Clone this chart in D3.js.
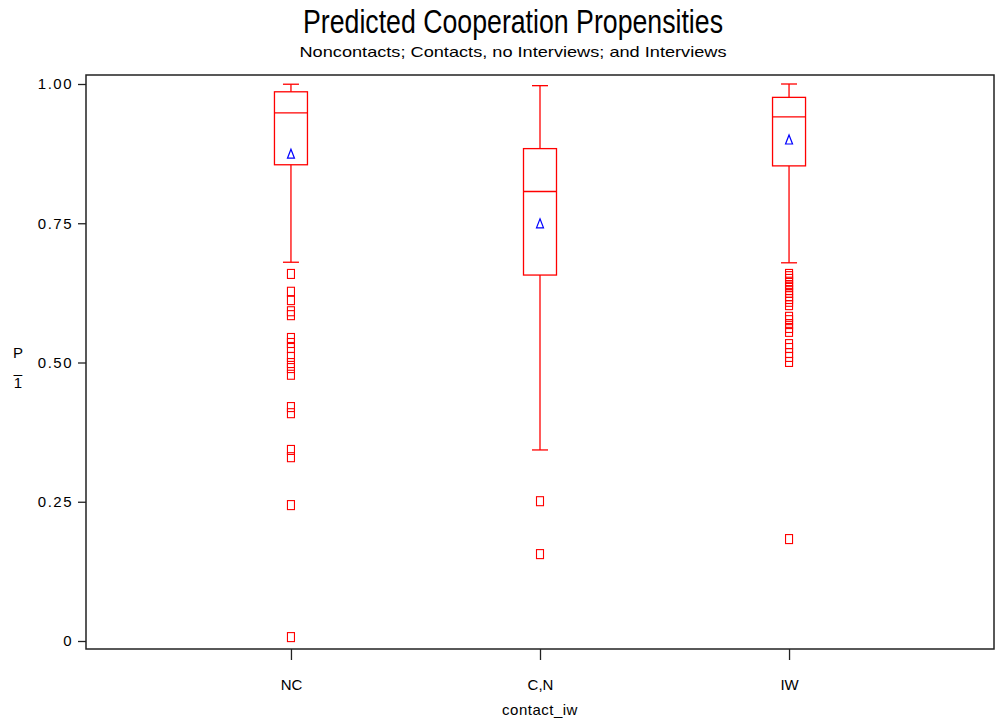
<!DOCTYPE html>
<html>
<head>
<meta charset="utf-8">
<script src="https://cdn.jsdelivr.net/npm/d3@7"></script>
<style>
  body { margin: 0; background: #fff; }
  text { font-family: "Liberation Sans", Arial, sans-serif; fill: #000; }
</style>
</head>
<body>
<div id="chartid"></div>
<script>
"use strict"

// categories and box statistics
var categories = ["NC", "C,N", "IW"];
var whiskerLow  = [0.680, 0.343, 0.679];
var boxLow      = [0.855, 0.657, 0.853];
var medians     = [0.948, 0.807, 0.941];
var boxHigh     = [0.986, 0.884, 0.976];
var whiskerHigh = [0.9996, 0.997, 1.000];
var means       = [0.874, 0.749, 0.8995];

var outliersNC = [0.659, 0.627, 0.612, 0.592, 0.585, 0.544, 0.535, 0.526, 0.510,
  0.499, 0.490, 0.478, 0.420, 0.409, 0.343, 0.330, 0.244, 0.007];
var outliersCN = [0.251, 0.156];
var outliersIW = [0.659, 0.655, 0.650, 0.645, 0.639, 0.636, 0.630, 0.625, 0.619,
  0.614, 0.609, 0.603, 0.582, 0.576, 0.569, 0.562, 0.555, 0.533, 0.526, 0.517,
  0.510, 0.501, 0.183];

var yTicks = [0, 0.25, 0.5, 0.75, 1];
var yTickLabels = ["0", "0.25", "0.50", "0.75", "1.00"];

var svg = d3.select("#chartid").append("svg")
  .attr("width", 996)
  .attr("height", 721);

var margin = { left: 86, right: 994, top: 75, bottom: 649 };

var scale_x = d3.scalePoint()
  .domain(categories)
  .range([margin.left, margin.right])
  .padding(0.823);

var scale_y = d3.scaleLinear()
  .domain([0, 1])
  .range([641, 84]);

// titles
svg.append("text")
  .attr("x", 513).attr("y", 33)
  .attr("text-anchor", "middle")
  .attr("font-size", 34)
  .attr("textLength", 420)
  .attr("lengthAdjust", "spacingAndGlyphs")
  .text("Predicted Cooperation Propensities");

svg.append("text")
  .attr("x", 513).attr("y", 57)
  .attr("text-anchor", "middle")
  .attr("font-size", 15)
  .attr("textLength", 427)
  .attr("lengthAdjust", "spacingAndGlyphs")
  .text("Noncontacts; Contacts, no Interviews; and Interviews");

// frame
svg.append("rect")
  .attr("x", margin.left).attr("y", margin.top)
  .attr("width", margin.right - margin.left).attr("height", margin.bottom - margin.top)
  .attr("fill", "none")
  .attr("stroke", "#222")
  .attr("stroke-width", 1.5);

// y axis
var y_axis = d3.axisLeft(scale_y)
  .tickValues(yTicks)
  .tickSize(8)
  .tickPadding(5)
  .tickFormat(function(d, i) { return yTickLabels[i]; });

var gy = svg.append("g")
  .attr("transform", "translate(" + margin.left + ",0)")
  .call(y_axis);
gy.select(".domain").remove();
gy.selectAll("line").attr("stroke", "#222").attr("stroke-width", 1.3);
gy.selectAll("text")
  .attr("font-size", 15)
  .attr("letter-spacing", 1.5)
  .attr("font-family", "Liberation Sans, Arial, sans-serif");

// x axis
var x_axis = d3.axisBottom(scale_x)
  .tickSize(11)
  .tickPadding(19);

var gx = svg.append("g")
  .attr("transform", "translate(0," + margin.bottom + ")")
  .call(x_axis);
gx.select(".domain").remove();
gx.selectAll("line").attr("stroke", "#222").attr("stroke-width", 1.3);
gx.selectAll("text")
  .attr("font-size", 15)
  .attr("font-family", "Liberation Sans, Arial, sans-serif");

// axis titles
svg.append("text")
  .attr("x", 540).attr("y", 715)
  .attr("text-anchor", "middle")
  .attr("font-size", 15)
  .attr("letter-spacing", 0.5)
  .text("contact_iw");

// vertical stacked label P_1, one text element
svg.append("text")
  .attr("x", 18).attr("y", 344)
  .attr("font-size", 15)
  .style("writing-mode", "vertical-rl")
  .style("text-orientation", "upright")
  .attr("letter-spacing", -2)
  .text("P_1");

// boxes
var red = "#ff0000";
var boxW = 33, capW = 16;
var boxes = categories.map(function(c, i) {
  return { cat: c, wl: whiskerLow[i], q1: boxLow[i], med: medians[i],
    q3: boxHigh[i], wh: whiskerHigh[i], mean: means[i] };
});

var g = svg.append("g").attr("stroke", red).attr("fill", "none").attr("stroke-width", 1.3);

boxes.forEach(function(b) {
  var cx = scale_x(b.cat);
  g.append("line")
    .attr("x1", cx).attr("x2", cx)
    .attr("y1", scale_y(b.wl)).attr("y2", scale_y(b.q1));
  g.append("line")
    .attr("x1", cx).attr("x2", cx)
    .attr("y1", scale_y(b.q3)).attr("y2", scale_y(b.wh));
  g.append("line")
    .attr("x1", cx - capW / 2).attr("x2", cx + capW / 2)
    .attr("y1", scale_y(b.wl)).attr("y2", scale_y(b.wl));
  g.append("line")
    .attr("x1", cx - capW / 2).attr("x2", cx + capW / 2)
    .attr("y1", scale_y(b.wh)).attr("y2", scale_y(b.wh));
  g.append("rect")
    .attr("x", cx - boxW / 2).attr("y", scale_y(b.q3))
    .attr("width", boxW).attr("height", scale_y(b.q1) - scale_y(b.q3));
  g.append("line")
    .attr("x1", cx - boxW / 2).attr("x2", cx + boxW / 2)
    .attr("y1", scale_y(b.med)).attr("y2", scale_y(b.med));
  // mean marker
  var my = scale_y(b.mean);
  svg.append("path")
    .attr("d", "M" + cx + "," + (my - 5) + "L" + (cx + 3.5) + "," + (my + 4) + "L" + (cx - 3.5) + "," + (my + 4) + "Z")
    .attr("fill", "none")
    .attr("stroke", "#0000ff")
    .attr("stroke-width", 1.2);
});

// outliers
var outlierSets = [outliersNC, outliersCN, outliersIW];
outlierSets.forEach(function(vals, i) {
  var cx = scale_x(categories[i]);
  g.selectAll(null)
    .data(vals)
    .enter().append("rect")
    .attr("x", cx - 3.5)
    .attr("y", function(d) { return scale_y(d) - 4.5; })
    .attr("width", 7)
    .attr("height", 9)
    .attr("stroke-width", 1.1);
});
</script>
</body>
</html>
